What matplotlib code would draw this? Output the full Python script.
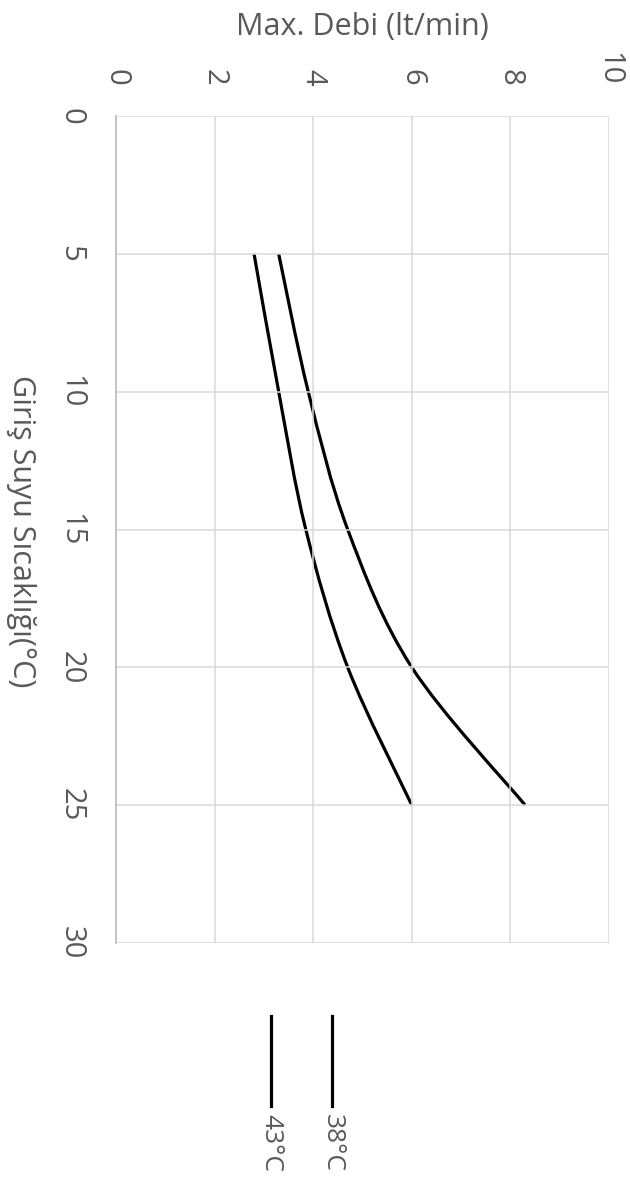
import numpy as np
import matplotlib
matplotlib.use('Agg')
import matplotlib.pyplot as plt
from matplotlib.path import Path
from matplotlib.patches import PathPatch
from matplotlib.lines import Line2D

# data (chart is drawn rotated 90° clockwise: temperature runs downward)
temps = [5, 10, 15, 20, 25]
debi_38 = [3.3, 3.9, 4.7, 6.0, 8.3]
debi_43 = [2.8, 3.3, 3.85, 4.7, 6.0]
series_names = ['38°C', '43°C']
debi_ticks = [0, 2, 4, 6, 8, 10]
temp_ticks = [0, 5, 10, 15, 20, 25, 30]

W, H = 630, 1181
TXT = '#595959'
GRID = '#d9d9d9'
FONT = 'Open Sans'
plt.rcParams['font.family'] = [FONT, 'DejaVu Sans']


def smooth_path(xs, ys):
    """Excel-style smoothed line: Catmull-Rom Bezier through the points."""
    p = np.column_stack([xs, ys]).astype(float)
    verts = [p[0]]
    codes = [Path.MOVETO]
    n = len(p)
    for i in range(n - 1):
        p0 = p[max(i - 1, 0)]
        p1 = p[i]
        p2 = p[i + 1]
        p3 = p[min(i + 2, n - 1)]
        verts += [p1 + (p2 - p0) / 6, p2 - (p3 - p1) / 6, p2]
        codes += [Path.CURVE4] * 3
    return Path(verts, codes)


fig = plt.figure(figsize=(W / 100, H / 100), dpi=100, facecolor='white')
ax = fig.add_axes([116 / W, 1 - 943 / H, 493 / W, 827 / H])
ax.set_xlim(0, 10)
ax.set_ylim(30, 0)
ax.set_xticks(debi_ticks)
ax.set_yticks(temp_ticks)
ax.xaxis.tick_top()
ax.grid(True, color=GRID, lw=1.1)
for s in ('top', 'right', 'bottom'):
    ax.spines[s].set_visible(False)
ax.spines['left'].set_color('#bfbfbf')
ax.spines['left'].set_linewidth(1.3)
ax.tick_params(axis='both', length=0, pad=22, labelsize=21, labelcolor=TXT)
for lab in ax.get_xticklabels():
    lab.set_rotation(-90)
for lab in ax.get_yticklabels():
    lab.set_rotation(-90)
    lab.set_va('center')

for ys in (debi_38, debi_43):
    ax.add_patch(PathPatch(smooth_path(ys, temps), facecolor='none',
                           edgecolor='black', lw=2.3, capstyle='butt'))

fig.text(362 / W, 1 - 35 / H, 'Max. Debi (lt/min)', ha='center', va='baseline',
         color=TXT, fontsize=22)
fig.text(21 / W, 1 - 531 / H, 'Giriş Suyu Sıcaklığı(°C)', ha='center', va='center',
         rotation=-90, color=TXT, fontsize=22)

# legend, drawn by hand with vertical handles
for name, x in zip(series_names, (332, 271)):
    fig.add_artist(Line2D([x / W, x / W], [1 - 1016 / H, 1 - 1106 / H],
                          transform=fig.transFigure, color='black', lw=2.3))
    fig.text(x / W, 1 - 1114 / H, name, ha='center', va='top', rotation=-90,
             color=TXT, fontsize=19)

fig.savefig('out.png', dpi=100, facecolor='white')
